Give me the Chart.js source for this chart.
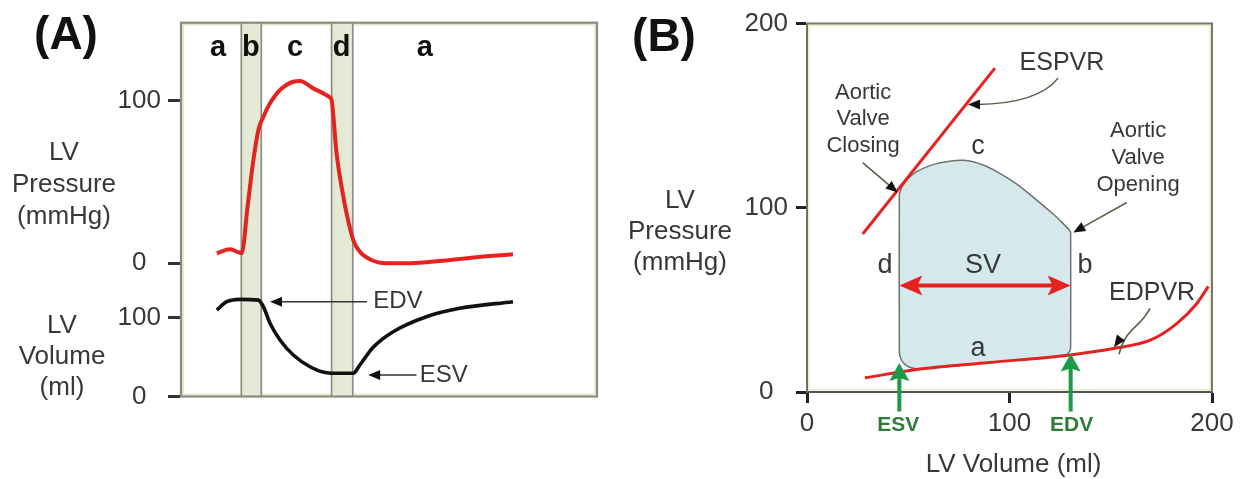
<!DOCTYPE html>
<html>
<head>
<meta charset="utf-8">
<script src="https://cdn.jsdelivr.net/npm/chart.js@4.4.1/dist/chart.umd.min.js"></script>
<style>
  html, body { margin: 0; padding: 0; background: #fff; }
  #wrap { position: relative; width: 1242px; height: 479px; overflow: hidden; }
  canvas { position: absolute; top: 0; }
  #cycle { left: 0; }
  #loop { left: 600px; }
</style>
</head>
<body>
<div id="wrap">
  <canvas id="cycle" width="600" height="479"></canvas>
  <canvas id="loop" width="642" height="479"></canvas>
</div>
<script>
// ---------- (A) LV pressure and volume through one beat (time in ms) ----------
const pressureTime = [86, 118, 146, 160, 174, 186, 198, 214, 238, 270, 286, 318, 358, 362, 374, 386, 398, 414, 430, 454, 494, 550, 630, 710, 798];
const pressureMmHg = [6.2, 8.6, 6.2, 34.8, 63.5, 82, 90.2, 98.4, 106.6, 111.7, 112.1, 107.6, 102, 100.4, 67.6, 47.1, 30.7, 14.3, 7.1, 2.5, 0, 0, 1.6, 3.7, 5.5];
const volumeTime = [86, 110, 142, 186, 198, 214, 238, 270, 310, 350, 380, 414, 430, 462, 510, 590, 670, 798];
const volumeMl = [109.5, 120, 123, 122, 113.7, 92.7, 71.5, 52.5, 37.7, 30.1, 29.4, 29.4, 39.9, 62.3, 82, 101, 111.6, 120];
const pressureTicksA = [0, 100];
const volumeTicksA = [0, 100];
// isovolumetric phases (shaded) and phase letters
const phaseBandStart = [145, 362];
const phaseBandEnd = [193, 413];
const phaseLetters = ['a', 'b', 'c', 'd', 'a'];
const phaseLetterTime = [89, 168, 274, 386, 586];

// ---------- (B) pressure-volume loop (filling -> ejection -> relaxation) ----------
const loopVolume = [54.8, 90, 125.9, 128.6, 129.9, 130.2, 130.2, 129.5, 126.5, 121.6, 112, 103.6, 95, 88, 82, 77.2, 72, 65.7, 60, 54.2, 50, 47, 45.6, 45.6, 46.2, 47.8, 50.4, 54.8];
const loopPressure = [12.3, 16.0, 19.7, 20.6, 22.5, 25.4, 86.6, 88.0, 91.4, 96.6, 105.5, 112.8, 118.8, 122.8, 125.0, 125.8, 125.6, 124.4, 122.6, 119.6, 116.0, 111.5, 107.4, 21.8, 18.5, 15.6, 13.6, 12.3];
const espvrVolume = [27.5, 92.8];
const espvrPressure = [85.8, 175.8];
const edpvrVolume = [28.6, 54.8, 90, 128.9, 151.3, 169.5, 182.6, 192.4, 198.2];
const edpvrPressure = [7.7, 12.3, 16.0, 20.0, 23.6, 28.1, 37.1, 47.9, 57.3];
const esvMl = 45.6;
const edvMl = 130.2;
const volumeTicksB = [0, 100, 200];
const pressureTicksB = [0, 100, 200];

const FONT = "'Liberation Sans', Arial, Helvetica, sans-serif";
Chart.defaults.font.family = FONT;

const toXY = (xs, ys) => xs.map((v, i) => ({ x: v, y: ys[i] }));

function head(ctx, tx, ty, ang, len, half, color, notch) {
  const c = Math.cos(ang), s = Math.sin(ang);
  const bx = tx - len * c, by = ty - len * s;
  const n = notch || 0;
  ctx.fillStyle = color;
  ctx.beginPath();
  ctx.moveTo(tx, ty);
  ctx.lineTo(bx - half * s, by + half * c);
  ctx.lineTo(tx - (len - n) * c, ty - (len - n) * s);
  ctx.lineTo(bx + half * s, by - half * c);
  ctx.closePath();
  ctx.fill();
}

function lines(ctx, list, cx, cy, spacing) {
  const n = list.length;
  list.forEach((s, i) => ctx.fillText(s, cx, cy + (i - (n - 1) / 2) * spacing));
}

// ---------- panel A ----------
const cycleDecor = {
  id: 'cycleDecor',
  beforeDatasetsDraw(chart) {
    const { ctx, chartArea: a, scales: { x } } = chart;
    ctx.save();
    ctx.strokeStyle = '#e6e6c8';
    ctx.lineWidth = 1.6;
    ctx.strokeRect(a.left + 2, a.top + 2, a.right - a.left - 4, a.bottom - a.top - 4);
    for (let i = 0; i < phaseBandStart.length; i++) {
      const x0 = x.getPixelForValue(phaseBandStart[i]);
      const x1 = x.getPixelForValue(phaseBandEnd[i]);
      ctx.fillStyle = '#e4ead5';
      ctx.fillRect(x0, a.top, x1 - x0, a.bottom - a.top);
      ctx.strokeStyle = '#8d8d84';
      ctx.lineWidth = 1.7;
      ctx.beginPath();
      ctx.moveTo(x0, a.top); ctx.lineTo(x0, a.bottom);
      ctx.moveTo(x1, a.top); ctx.lineTo(x1, a.bottom);
      ctx.stroke();
    }
    ctx.restore();
  },
  afterDraw(chart) {
    const { ctx, chartArea: a, scales: { x, yP, yV } } = chart;
    ctx.save();
    ctx.strokeStyle = '#8a8a7f';
    ctx.lineWidth = 2.2;
    ctx.strokeRect(a.left, a.top, a.right - a.left, a.bottom - a.top);

    ctx.textAlign = 'center';
    ctx.textBaseline = 'middle';
    ctx.fillStyle = '#111';
    ctx.font = 'bold 29px ' + FONT;
    phaseLetters.forEach((l, i) => ctx.fillText(l, x.getPixelForValue(phaseLetterTime[i]), yP.getPixelForValue(132.4)));

    ctx.fillStyle = '#111';
    ctx.font = 'bold 46px ' + FONT;
    ctx.fillText('(A)', 66, 36);

    ctx.fillStyle = '#383838';
    ctx.font = '26px ' + FONT;
    lines(ctx, ['LV', 'Pressure', '(mmHg)'], 64, yP.getPixelForValue(48), 32);
    lines(ctx, ['LV', 'Volume', '(ml)'], 62, yV.getPixelForValue(50), 31);

    // EDV / ESV pointers
    ctx.strokeStyle = '#333';
    ctx.lineWidth = 1.5;
    const eY = yV.getPixelForValue(120);
    const eTip = x.getPixelForValue(214);
    ctx.beginPath();
    ctx.moveTo(x.getPixelForValue(447), eY); ctx.lineTo(eTip + 8, eY); ctx.stroke();
    head(ctx, eTip, eY, Math.PI, 12, 5, '#111');
    const sY = yV.getPixelForValue(27.2);
    const sTip = x.getPixelForValue(450);
    ctx.beginPath();
    ctx.moveTo(x.getPixelForValue(566), sY); ctx.lineTo(sTip + 8, sY); ctx.stroke();
    head(ctx, sTip, sY, Math.PI, 12, 5, '#111');

    ctx.textAlign = 'left';
    ctx.fillStyle = '#383838';
    ctx.font = '24px ' + FONT;
    ctx.fillText('EDV', x.getPixelForValue(462), eY);
    ctx.fillText('ESV', x.getPixelForValue(574), sY);
    ctx.restore();
  }
};

const axisTicksA = {
  drawOnChartArea: false, drawTicks: true, tickLength: 13, tickWidth: 3, tickColor: '#333'
};

new Chart(document.getElementById('cycle'), {
  type: 'line',
  data: {
    datasets: [
      {
        label: 'LV Pressure', data: toXY(pressureTime, pressureMmHg), yAxisID: 'yP',
        borderColor: '#e42320', borderWidth: 4, pointRadius: 0, fill: false,
        cubicInterpolationMode: 'monotone'
      },
      {
        label: 'LV Volume', data: toXY(volumeTime, volumeMl), yAxisID: 'yV',
        borderColor: '#111', borderWidth: 3.6, pointRadius: 0, fill: false,
        cubicInterpolationMode: 'monotone'
      }
    ]
  },
  options: {
    responsive: false, animation: false, devicePixelRatio: 1,
    layout: { padding: { left: 0, right: 3, top: 22.7, bottom: 82.5 } },
    plugins: { legend: { display: false }, tooltip: { enabled: false } },
    scales: {
      x: { type: 'linear', min: 0, max: 1000, display: false },
      yP: {
        type: 'linear', position: 'left', stack: 'lv', stackWeight: 263.2, weight: 2,
        min: -13.9, max: 148,
        afterBuildTicks: s => { s.ticks = pressureTicksA.map(v => ({ value: v })); },
        afterFit: s => { s.width = 181; },
        grid: axisTicksA,
        border: { color: '#8a8a7f', width: 2.2 },
        ticks: { crossAlign: 'center', padding: 7, color: '#383838', font: { size: 26 } }
      },
      yV: {
        type: 'linear', position: 'left', stack: 'lv', stackWeight: 110.6, weight: 1,
        min: 0, max: 140,
        afterBuildTicks: s => { s.ticks = volumeTicksA.map(v => ({ value: v })); },
        afterFit: s => { s.width = 181; },
        grid: axisTicksA,
        border: { color: '#8a8a7f', width: 2.2 },
        ticks: { crossAlign: 'center', padding: 7, color: '#383838', font: { size: 26 } }
      }
    }
  },
  plugins: [cycleDecor]
});

// ---------- panel B ----------
const loopDecor = {
  id: 'loopDecor',
  beforeDatasetsDraw(chart) {
    const { ctx, chartArea: a } = chart;
    ctx.save();
    ctx.strokeStyle = '#ecebc6';
    ctx.lineWidth = 1.6;
    ctx.strokeRect(a.left + 2, a.top + 2, a.right - a.left - 4, a.bottom - a.top - 4);
    ctx.restore();
  },
  afterDraw(chart) {
    const { ctx, chartArea: a, scales: { x, y } } = chart;
    const px = v => x.getPixelForValue(v);
    const py = p => y.getPixelForValue(p);
    ctx.save();
    // frame top and right
    ctx.strokeStyle = '#75756a';
    ctx.lineWidth = 2;
    ctx.beginPath();
    ctx.moveTo(a.left, a.top); ctx.lineTo(a.right, a.top); ctx.lineTo(a.right, a.bottom);
    ctx.stroke();

    // stroke volume arrow
    const svY = py(57.8);
    const x0 = px(esvMl), x1 = px(edvMl);
    ctx.strokeStyle = '#e42320';
    ctx.lineWidth = 4;
    ctx.beginPath(); ctx.moveTo(x0 + 14, svY); ctx.lineTo(x1 - 14, svY); ctx.stroke();
    head(ctx, x0, svY, Math.PI, 23, 10, '#e42320', 5);
    head(ctx, x1, svY, 0, 23, 10, '#e42320', 5);

    // ESV / EDV markers
    const green = '#1c9a48';
    [[esvMl, 15.7], [edvMl, 20.9]].forEach(([v, tip]) => {
      const gx = px(v), ty = py(tip);
      ctx.strokeStyle = green;
      ctx.lineWidth = 4;
      ctx.beginPath(); ctx.moveTo(gx, py(-10.6)); ctx.lineTo(gx, ty + 14); ctx.stroke();
      head(ctx, gx, ty, -Math.PI / 2, 18, 10, green, 3);
    });
    ctx.fillStyle = '#2f7d3b';
    ctx.font = 'bold 21px ' + FONT;
    ctx.textAlign = 'center';
    ctx.textBaseline = 'middle';
    ctx.fillText('ESV', px(esvMl) - 1, 425);
    ctx.fillText('EDV', px(edvMl) + 1, 425);

    // loop labels
    ctx.fillStyle = '#383838';
    ctx.font = '27px ' + FONT;
    ctx.fillText('c', px(84.4), py(133.5));
    ctx.fillText('d', px(38.5), py(68.6));
    ctx.fillText('b', px(137.3), py(68.6));
    ctx.fillText('SV', px(86.9), py(68.6));
    ctx.fillText('a', px(84.4), py(23.8));

    ctx.font = '25px ' + FONT;
    ctx.fillText('ESPVR', px(125.9), py(178.4));
    ctx.fillText('EDPVR', px(170.4), py(53.5));

    ctx.font = '22px ' + FONT;
    lines(ctx, ['Aortic', 'Valve', 'Closing'], px(27.7), py(148.1), 26.7);
    lines(ctx, ['Aortic', 'Valve', 'Opening'], px(163.5), py(127.1), 26.7);

    // pointer arrows
    ctx.strokeStyle = '#5e5e48';
    ctx.lineWidth = 1.6;
    // aortic valve closing
    let sx = px(27.5), sy = py(124.5), ex = px(44.8), ey = py(108.3);
    let ang = Math.atan2(ey - sy, ex - sx);
    ctx.beginPath(); ctx.moveTo(sx, sy); ctx.lineTo(ex - 9 * Math.cos(ang), ey - 9 * Math.sin(ang)); ctx.stroke();
    head(ctx, ex, ey, ang, 12, 5, '#111');
    // aortic valve opening
    sx = px(157.9); sy = py(102.9); ex = px(131.5); ey = py(86.6);
    ang = Math.atan2(ey - sy, ex - sx);
    ctx.beginPath(); ctx.moveTo(sx, sy); ctx.lineTo(ex - 9 * Math.cos(ang), ey - 9 * Math.sin(ang)); ctx.stroke();
    head(ctx, ex, ey, ang, 12, 5, '#111');
    // ESPVR
    sx = px(124); sy = py(170.4); ex = px(79.5); ey = py(156.1);
    ctx.beginPath(); ctx.moveTo(sx, sy);
    ctx.quadraticCurveTo(px(114), py(156.5), ex + 9, ey);
    ctx.stroke();
    head(ctx, ex, ey, Math.PI, 12, 5, '#111');
    // EDPVR
    sx = px(169.4); sy = py(45.4); ex = px(151.6); ey = py(24.3);
    ctx.beginPath(); ctx.moveTo(sx, sy);
    ctx.bezierCurveTo(px(164), py(34), px(158), py(36), ex + 5, ey + 7);
    ctx.stroke();
    head(ctx, ex, ey, Math.atan2(7, -5), 12, 5, '#111');

    // panel letter and axis titles
    ctx.fillStyle = '#111';
    ctx.font = 'bold 46px ' + FONT;
    ctx.fillText('(B)', 64, 38);
    ctx.fillStyle = '#383838';
    ctx.font = '26px ' + FONT;
    lines(ctx, ['LV', 'Pressure', '(mmHg)'], 80, py(87), 31);
    ctx.fillText('LV Volume (ml)', px(102), 465);
    ctx.restore();
  }
};

const axisTicksB = {
  drawOnChartArea: false, drawTicks: true, tickLength: 11, tickWidth: 3, tickColor: '#222'
};

new Chart(document.getElementById('loop'), {
  type: 'line',
  data: {
    datasets: [
      {
        label: 'ESPVR', data: toXY(espvrVolume, espvrPressure),
        borderColor: '#e42320', borderWidth: 3, pointRadius: 0, fill: false, tension: 0
      },
      {
        label: 'EDPVR', data: toXY(edpvrVolume, edpvrPressure),
        borderColor: '#e42320', borderWidth: 3, pointRadius: 0, fill: false,
        cubicInterpolationMode: 'monotone'
      },
      {
        label: 'PV loop', data: toXY(loopVolume, loopPressure),
        borderColor: '#6f7171', borderWidth: 1.5, backgroundColor: '#d5e9ec',
        pointRadius: 0, fill: 'shape', tension: 0.1
      }
    ]
  },
  options: {
    responsive: false, animation: false, devicePixelRatio: 1,
    layout: { padding: { left: 0, right: 30, top: 22, bottom: 0 } },
    plugins: { legend: { display: false }, tooltip: { enabled: false } },
    scales: {
      x: {
        type: 'linear', min: 0, max: 200,
        afterBuildTicks: s => { s.ticks = volumeTicksB.map(v => ({ value: v })); },
        afterFit: s => { s.height = 87; },
        grid: axisTicksB,
        border: { color: '#555', width: 2 },
        ticks: { padding: 5, color: '#383838', maxRotation: 0, font: { size: 26 } }
      },
      y: {
        type: 'linear', min: 0, max: 200,
        afterBuildTicks: s => { s.ticks = pressureTicksB.map(v => ({ value: v })); },
        afterFit: s => { s.width = 207; },
        grid: axisTicksB,
        border: { color: '#6f6f63', width: 2 },
        ticks: { crossAlign: 'center', padding: 8, color: '#383838', font: { size: 26 } }
      }
    }
  },
  plugins: [loopDecor]
});
</script>
</body>
</html>
